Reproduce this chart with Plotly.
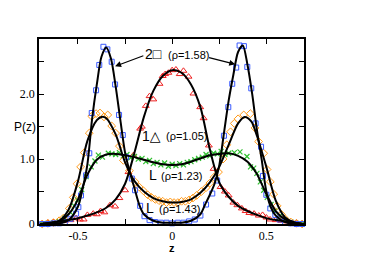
import plotly.graph_objects as go

# ---------------- data ----------------
# smooth fitted curves (black lines)
blue_lz = [-0.70,-0.65,-0.60,-0.55,-0.50,-0.475,-0.45,-0.425,-0.40,-0.375,-0.35,-0.325,-0.30,-0.275,-0.25,-0.225,-0.20,-0.175,-0.15,-0.10,-0.05,0.0,0.05,0.10,0.15,0.175,0.20,0.225,0.25,0.275,0.30,0.325,0.35,0.375,0.40,0.425,0.45,0.475,0.50,0.525,0.55,0.60,0.65,0.70]
blue_lp = [0.0,0.0,0.01,0.06,0.27,0.55,0.92,1.62,2.15,2.58,2.72,2.55,2.12,1.60,1.10,0.80,0.55,0.30,0.15,0.05,0.02,0.02,0.02,0.05,0.15,0.30,0.45,0.62,0.90,1.40,1.90,2.30,2.65,2.75,2.45,2.00,1.45,1.00,0.50,0.25,0.13,0.03,0.0,0.0]

orange_lz = [-0.70,-0.65,-0.60,-0.55,-0.50,-0.45,-0.40,-0.375,-0.35,-0.30,-0.25,-0.20,-0.15,-0.10,-0.05,0.0,0.05,0.10,0.15,0.20,0.25,0.30,0.35,0.385,0.42,0.45,0.50,0.55,0.60,0.65,0.70]
orange_lp = [0.0,0.01,0.05,0.22,0.66,1.28,1.60,1.65,1.63,1.38,0.95,0.66,0.50,0.40,0.35,0.33,0.34,0.38,0.48,0.64,0.88,1.22,1.55,1.65,1.58,1.36,0.88,0.36,0.10,0.02,0.0]

green_lz = [-0.70,-0.65,-0.60,-0.55,-0.50,-0.45,-0.40,-0.35,-0.30,-0.25,-0.20,-0.15,-0.10,-0.05,0.0,0.05,0.10,0.15,0.20,0.25,0.30,0.35,0.40,0.45,0.50,0.55,0.60,0.65,0.70]
green_lp = [0.0,0.01,0.04,0.15,0.38,0.76,0.99,1.07,1.08,1.06,1.03,0.99,0.95,0.92,0.91,0.92,0.96,1.01,1.06,1.08,1.09,1.05,0.96,0.77,0.46,0.20,0.07,0.02,0.0]

red_lz = [-0.70,-0.65,-0.60,-0.55,-0.50,-0.45,-0.40,-0.35,-0.30,-0.25,-0.20,-0.15,-0.10,-0.05,0.0,0.05,0.10,0.15,0.20,0.25,0.30,0.35,0.40,0.45,0.50,0.55,0.60,0.65,0.70]
red_lp = [0.0,0.02,0.04,0.06,0.09,0.13,0.18,0.25,0.38,0.62,1.10,1.65,2.05,2.28,2.37,2.33,2.15,1.80,1.15,0.64,0.42,0.28,0.20,0.14,0.09,0.06,0.04,0.02,0.0]

# simulation points (markers)
blue_mz = [-0.69,-0.66,-0.63,-0.60,-0.57,-0.54,-0.51,-0.498,-0.484,-0.457,-0.44,-0.427,-0.404,-0.387,-0.365,-0.344,-0.321,-0.303,-0.282,-0.262,-0.245,-0.214,-0.197,-0.17,-0.147,-0.12,-0.09,-0.06,-0.03,0.0,0.03,0.06,0.09,0.12,0.15,0.18,0.213,0.239,0.275,0.298,0.319,0.34,0.358,0.381,0.399,0.42,0.443,0.472,0.482,0.50,0.521,0.548,0.57,0.60,0.63,0.66,0.69]
blue_mp = [0.0,0.0,0.01,0.01,0.03,0.08,0.16,0.26,0.44,0.75,1.09,1.71,2.06,2.45,2.73,2.69,2.50,2.15,1.68,1.37,1.03,0.70,0.52,0.28,0.12,0.06,0.03,0.02,0.02,0.01,0.02,0.02,0.04,0.07,0.13,0.30,0.47,0.67,1.36,1.80,2.16,2.41,2.75,2.74,2.42,2.09,1.55,1.19,0.74,0.45,0.24,0.14,0.07,0.03,0.01,0.0,0.0]

orange_mz = [-0.69,-0.66,-0.63,-0.60,-0.578,-0.546,-0.525,-0.505,-0.486,-0.466,-0.44,-0.427,-0.404,-0.383,-0.362,-0.342,-0.321,-0.30,-0.28,-0.259,-0.227,-0.197,-0.175,-0.152,-0.13,-0.11,-0.09,-0.07,-0.05,-0.03,-0.01,0.01,0.03,0.05,0.07,0.09,0.11,0.13,0.155,0.18,0.20,0.222,0.246,0.27,0.29,0.31,0.33,0.35,0.38,0.415,0.44,0.459,0.486,0.504,0.521,0.539,0.557,0.58,0.60,0.63,0.66,0.69]
orange_mp = [0.0,0.01,0.02,0.05,0.09,0.24,0.41,0.62,0.88,1.10,1.40,1.66,1.70,1.71,1.65,1.68,1.51,1.40,1.20,0.98,0.82,0.65,0.57,0.51,0.45,0.41,0.38,0.36,0.35,0.33,0.34,0.33,0.33,0.35,0.35,0.37,0.40,0.44,0.50,0.56,0.63,0.72,0.80,1.00,1.22,1.42,1.55,1.62,1.68,1.70,1.48,1.27,1.09,0.84,0.65,0.46,0.28,0.15,0.08,0.03,0.01,0.0]

green_mz = [-0.69,-0.66,-0.63,-0.60,-0.57,-0.54,-0.52,-0.502,-0.48,-0.457,-0.43,-0.41,-0.392,-0.37,-0.339,-0.32,-0.30,-0.28,-0.26,-0.24,-0.22,-0.20,-0.18,-0.16,-0.14,-0.12,-0.10,-0.08,-0.06,-0.04,-0.02,0.0,0.02,0.04,0.06,0.08,0.10,0.12,0.14,0.16,0.18,0.20,0.22,0.24,0.26,0.28,0.30,0.33,0.36,0.397,0.416,0.433,0.45,0.468,0.486,0.505,0.525,0.545,0.57,0.60,0.63,0.66,0.69]
green_mp = [0.0,0.01,0.02,0.04,0.09,0.18,0.28,0.37,0.53,0.73,0.88,0.97,1.06,1.03,1.09,1.08,1.07,1.10,1.05,1.07,1.02,1.04,1.00,1.01,0.96,0.98,0.93,0.95,0.91,0.94,0.89,0.92,0.90,0.93,0.91,0.95,0.96,0.99,1.01,1.03,1.07,1.05,1.09,1.08,1.12,1.07,1.09,1.10,1.11,1.04,0.88,0.86,0.78,0.65,0.52,0.41,0.30,0.20,0.12,0.06,0.03,0.01,0.0]

red_mz = [-0.69,-0.66,-0.63,-0.60,-0.57,-0.54,-0.51,-0.49,-0.47,-0.45,-0.419,-0.40,-0.38,-0.36,-0.33,-0.303,-0.28,-0.25,-0.232,-0.206,-0.17,-0.161,-0.14,-0.12,-0.10,-0.067,-0.05,-0.037,-0.02,0.0,0.02,0.04,0.06,0.087,0.113,0.149,0.167,0.195,0.22,0.257,0.28,0.30,0.325,0.346,0.37,0.39,0.41,0.435,0.46,0.48,0.50,0.52,0.55,0.58,0.61,0.64,0.66,0.69]
red_mp = [0.01,0.02,0.03,0.02,0.05,0.06,0.09,0.07,0.07,0.14,0.16,0.15,0.20,0.18,0.29,0.27,0.40,0.52,0.80,1.06,1.47,1.50,1.82,1.97,1.92,2.16,2.28,2.31,2.33,2.37,2.38,2.31,2.36,2.27,2.01,1.80,1.63,1.21,0.85,0.57,0.50,0.44,0.33,0.29,0.24,0.20,0.17,0.16,0.13,0.14,0.10,0.07,0.06,0.05,0.04,0.02,0.02,0.01]

x_ticks = [-0.5, -0.25, 0, 0.25, 0.5]
x_ticktext = ["-0.5", "", "0", "", "0.5"]
y_ticks = [0, 0.5, 1, 1.5, 2, 2.5]
y_ticktext = ["0", "", "1.0", "", "2.0", ""]

# ---------------- figure ----------------
BLUE = "#3b5bff"
ORANGE = "#ff9a1a"
GREEN = "#2fbf2f"
RED = "#ee2020"

fig = go.Figure()

def markers(z, p, color, symbol, size=5, width=1):
    fig.add_trace(go.Scatter(x=z, y=p, mode="markers", cliponaxis=False,
                             marker=dict(symbol=symbol, size=size, color=color,
                                         line=dict(color=color, width=width)),
                             showlegend=False, hoverinfo="skip"))

def curve(z, p):
    fig.add_trace(go.Scatter(x=z, y=p, mode="lines",
                             line=dict(color="black", width=2, shape="spline", smoothing=0.8),
                             showlegend=False, hoverinfo="skip"))

markers(red_mz, red_mp, RED, "triangle-up-open", 6)
markers(green_mz, green_mp, GREEN, "x-thin-open", 5, 1.2)
markers(orange_mz, orange_mp, ORANGE, "diamond-open", 6)
markers(blue_mz, blue_mp, BLUE, "square-open", 5)

curve(red_lz, red_lp)
curve(green_lz, green_lp)
curve(orange_lz, orange_lp)
curve(blue_lz, blue_lp)

SANS = "Liberation Sans, Arial, DejaVu Sans"
SERIF = "Liberation Serif, Times New Roman, serif"

def txt(x, y, s, size):
    fig.add_annotation(x=x, y=y, xref="x", yref="y", text=s, showarrow=False,
                       font=dict(family=SANS, size=size, color="black"),
                       xanchor="center", yanchor="middle")

txt(-0.098, 2.62, "2□", 14)
txt(0.085, 2.60, "(ρ=1.58)", 11)
txt(-0.109, 1.35, "1△", 14)
txt(0.076, 1.35, "(ρ=1.05)", 11)
txt(-0.104, 0.755, "L", 14)
txt(0.050, 0.74, "(ρ=1.23)", 11)
txt(-0.12, 0.24, "L", 14)
txt(0.040, 0.23, "(ρ=1.43)", 11)

# arrows
for hx, hy, tx, ty in [(-0.303, 2.43, -0.145, 2.60), (0.335, 2.46, 0.188, 2.57)]:
    fig.add_annotation(x=hx, y=hy, ax=tx, ay=ty, xref="x", yref="y", axref="x", ayref="y",
                       text="", showarrow=True, arrowhead=2, arrowsize=1, arrowwidth=1.2,
                       arrowcolor="black")

# axis labels
fig.add_annotation(x=-0.053, y=0.524, xref="paper", yref="paper", text="P(z)", showarrow=False,
                   font=dict(family=SANS, size=12, color="black"), xanchor="center", yanchor="middle")
fig.add_annotation(x=0.0, y=-0.128, xref="x", yref="paper", text="<b>z</b>", showarrow=False,
                   font=dict(family=SANS, size=11, color="black"), xanchor="center", yanchor="middle")

axis_common = dict(showline=True, linecolor="black", linewidth=1.5, mirror="ticks",
                   ticks="inside", ticklen=5, tickwidth=1, tickcolor="black",
                   showgrid=False, zeroline=False, tickmode="array",
                   tickfont=dict(family=SERIF, size=12, color="black"))

fig.update_xaxes(range=[-0.707, 0.70], tickvals=x_ticks, ticktext=x_ticktext, **axis_common)
fig.update_yaxes(range=[0, 2.85], tickvals=y_ticks, ticktext=y_ticktext, **axis_common)

# the page body adds an 8px offset, so the figure is sized to fit inside the window
fig.update_layout(width=366, height=256, margin=dict(l=31, r=70, t=31, b=40),
                  paper_bgcolor="white", plot_bgcolor="white")

fig.write_html("out.html")
